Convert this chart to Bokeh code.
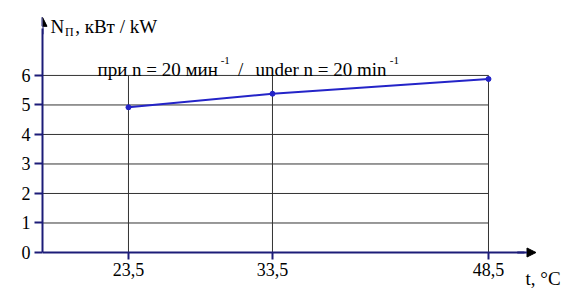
from bokeh.plotting import figure
from bokeh.models import (FixedTicker, Range1d, Label, Arrow, NormalHead, ColumnDataSource)
from bokeh.embed import file_html
from bokeh.resources import INLINE

# ---- data ----
temperature_c = [23.5, 33.5, 48.5]
power_kw = [4.92, 5.38, 5.88]
x_tick_labels = ["23,5", "33,5", "48,5"]
y_ticks = [0, 1, 2, 3, 4, 5, 6]
grid_top = 6

FONT = "'Liberation Serif', 'Times New Roman', serif"
AXIS_COL = "#1c1c78"
LINE_COL = "#2424c8"

x_start, x_end = 17.53, 53.57
y_start, y_end = -1.22, 8.54

p = figure(width=561, height=288, output_backend="svg", toolbar_location=None,
           x_range=Range1d(x_start, x_end), y_range=Range1d(y_start, y_end),
           min_border_left=42, min_border_bottom=0, min_border_top=0, min_border_right=0,
           background_fill_color="white", border_fill_color="white")
p.outline_line_color = None
p.xgrid.visible = False
p.ygrid.visible = False

# grid drawn as segments bounded to the chart box
hx0 = [x_start] * (len(y_ticks) - 1)
hx1 = [temperature_c[-1]] * (len(y_ticks) - 1)
p.segment(x0=hx0, y0=y_ticks[1:], x1=hx1, y1=y_ticks[1:], line_color="#333333", line_width=1)
p.segment(x0=temperature_c, y0=[0] * len(temperature_c), x1=temperature_c,
          y1=[grid_top] * len(temperature_c), line_color="#333333", line_width=1)

src = ColumnDataSource(dict(t=temperature_c, n=power_kw))
p.line("t", "n", source=src, line_color=LINE_COL, line_width=2)
p.scatter("t", "n", source=src, size=5, fill_color=LINE_COL, line_color=LINE_COL)

# axes
xa = p.xaxis[0]
xa.ticker = FixedTicker(ticks=temperature_c)
xa.major_label_overrides = {t: lab for t, lab in zip(temperature_c, x_tick_labels)}
xa.bounds = (x_start, 51.0)
xa.fixed_location = 0
ya = p.yaxis[0]
ya.ticker = FixedTicker(ticks=y_ticks)
ya.bounds = (0, 7.6)
for ax in (xa, ya):
    ax.axis_line_color = AXIS_COL
    ax.axis_line_width = 2
    ax.major_tick_line_color = AXIS_COL
    ax.major_tick_line_width = 2
    ax.major_tick_in = 0
    ax.minor_tick_line_color = None
    ax.major_label_text_font = FONT
    ax.major_label_text_font_size = "18px"
    ax.major_label_text_color = "black"
xa.major_tick_out = 7
xa.major_label_standoff = 3
ya.major_tick_out = 8
ya.major_label_standoff = 4

# axis arrows
p.add_layout(Arrow(end=NormalHead(size=9, fill_color="black", line_color="black"),
                   x_start=50.5, y_start=0, x_end=51.8, y_end=0,
                   line_color=AXIS_COL, line_width=2))
p.add_layout(Arrow(end=NormalHead(size=9, fill_color="black", line_color="black"),
                   x_start=17.53, y_start=7.4, x_end=17.53, y_end=7.97,
                   line_color=AXIS_COL, line_width=2))

def lab(x, y, text, size):
    p.add_layout(Label(x=x, y=y, text=text, text_font=FONT, text_font_size=size,
                       text_color="black", text_baseline="alphabetic", text_align="left"))

# y title
lab(18.09, 7.66, "N", "19px")
lab(19.10, 7.46, "П", "12px")
lab(19.80, 7.66, ", кВт / kW", "19px")
# annotation
lab(21.35, 6.20, "при n = 20 мин", "19px")
lab(29.90, 6.51, "-1", "11px")
lab(31.10, 6.20, "/", "19px")
lab(32.32, 6.20, "under n = 20 min", "19px")
lab(41.65, 6.51, "-1", "11px")
# x title
lab(51.07, -0.88, "t, °C", "19px")

open("out.html", "w").write(file_html(p, INLINE))
